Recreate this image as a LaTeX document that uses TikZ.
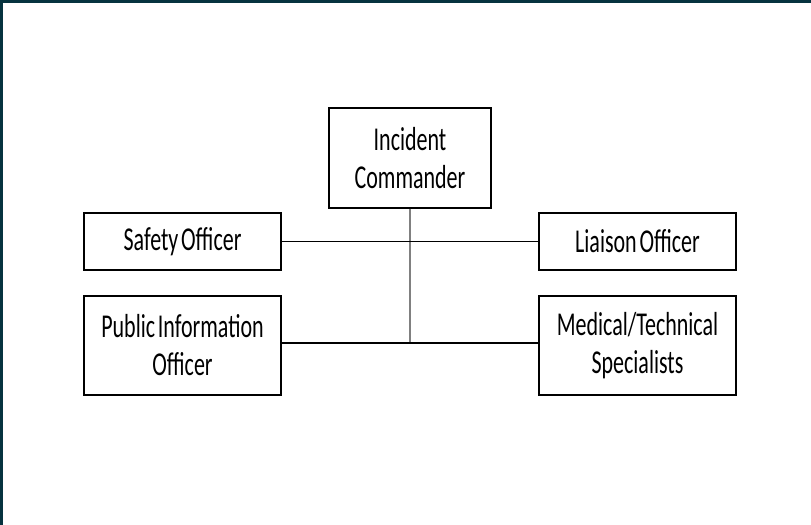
\documentclass[tikz,border=0pt]{standalone}
\usepackage{fontspec}
\setmainfont[FakeStretch=0.66, WordSpace=0.55]{Carlito}
\usetikzlibrary{positioning}
\definecolor{frame}{HTML}{06333F}
\definecolor{stem}{HTML}{808080}
\tikzstyle{post}=[draw, line width=0.9pt, align=center, inner sep=0pt,
    font=\fontsize{25}{28.5}\selectfont]

\begin{document}
\begin{tikzpicture}[x=0.75pt, y=-0.75pt]
    \useasboundingbox (0,0) rectangle (811,525);
% Frame
    \fill[frame] (0,0) rectangle (811,2.5);
    \fill[frame] (0,0) rectangle (2.5,525);
% Posts
    \node[post, minimum width=121.5pt, minimum height=75pt] (ic) at (410,158) {Incident\\Commander};
    \node[post, minimum width=147.75pt, minimum height=42.75pt] (safety) at (182.5,241.5) {Safety Officer};
    \node[post, minimum width=147.75pt, minimum height=42.75pt] (liaison) at (637.5,241.5) {Liaison Officer};
    \node[post, minimum width=147.75pt, minimum height=74.25pt] (pio) at (182.5,345.5) {Public Information\\Officer};
    \node[post, minimum width=147.75pt, minimum height=74.25pt] (med) at (637.5,345.5) {Medical/Technical\\Specialists};
% Lines
    \coordinate (foot) at (410,343);
    \draw[stem, line width=1pt] (ic.south) -- (foot);
    \draw[line width=1pt] (safety.east) -- (liaison.west);
    \draw[line width=1pt] (pio.east |- foot) -- (med.west |- foot);
\end{tikzpicture}
\end{document}
